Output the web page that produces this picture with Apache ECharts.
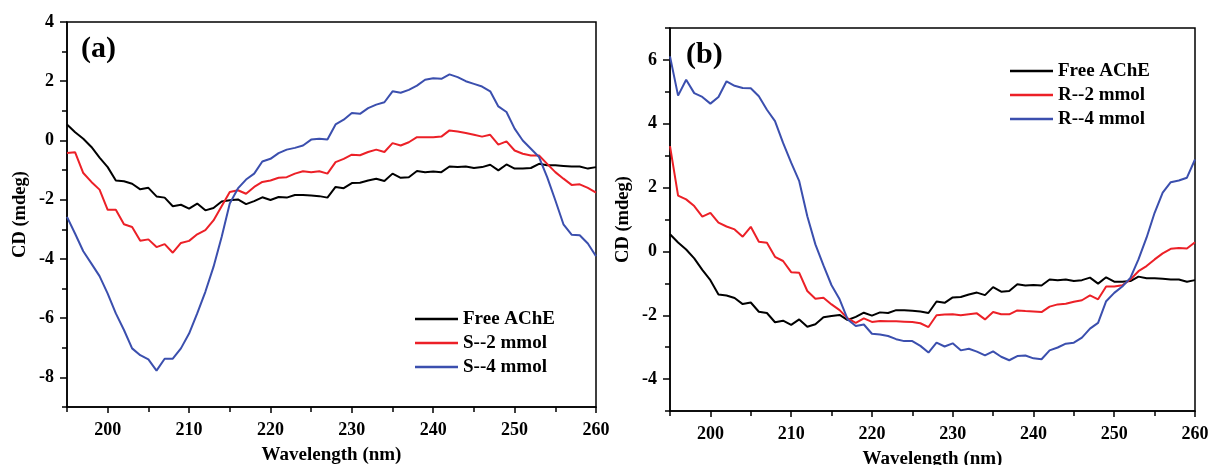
<!DOCTYPE html>
<html>
<head>
<meta charset="utf-8">
<script src="https://cdn.jsdelivr.net/npm/echarts@6/dist/echarts.min.js"></script>
<style>
html,body{margin:0;padding:0;background:#fff;}
#chart{width:1208px;height:465px;}
</style>
</head>
<body>
<div id="chart"></div>
<script>
// Wavelength (nm)
const wavelength = [195,196,197,198,199,200,201,202,203,204,205,206,207,208,209,210,211,212,213,214,215,216,217,218,219,220,221,222,223,224,225,226,227,228,229,230,231,232,233,234,235,236,237,238,239,240,241,242,243,244,245,246,247,248,249,250,251,252,253,254,255,256,257,258,259,260];

// CD (mdeg)
const freeAChE = [0.54,0.28,0.06,-0.22,-0.58,-0.9,-1.35,-1.38,-1.46,-1.65,-1.6,-1.89,-1.93,-2.22,-2.17,-2.3,-2.13,-2.36,-2.28,-2.06,-2.02,-1.99,-2.15,-2.05,-1.92,-2.01,-1.91,-1.93,-1.84,-1.84,-1.86,-1.88,-1.93,-1.57,-1.61,-1.44,-1.43,-1.35,-1.29,-1.37,-1.12,-1.26,-1.24,-1.03,-1.07,-1.05,-1.07,-0.88,-0.9,-0.88,-0.93,-0.9,-0.82,-1.01,-0.81,-0.95,-0.95,-0.93,-0.79,-0.84,-0.84,-0.86,-0.88,-0.88,-0.95,-0.9];
const s2mmol = [-0.42,-0.4,-1.1,-1.4,-1.66,-2.34,-2.34,-2.83,-2.92,-3.39,-3.34,-3.6,-3.5,-3.79,-3.46,-3.39,-3.17,-3.03,-2.7,-2.22,-1.74,-1.68,-1.8,-1.57,-1.4,-1.35,-1.26,-1.24,-1.12,-1.04,-1.07,-1.04,-1.12,-0.73,-0.62,-0.48,-0.5,-0.39,-0.31,-0.39,-0.09,-0.17,-0.06,0.11,0.11,0.11,0.13,0.34,0.3,0.25,0.19,0.13,0.19,-0.14,-0.03,-0.34,-0.45,-0.51,-0.51,-0.79,-1.07,-1.29,-1.5,-1.48,-1.6,-1.76];
const s4mmol = [-2.58,-3.15,-3.74,-4.16,-4.58,-5.17,-5.84,-6.4,-7.02,-7.25,-7.39,-7.77,-7.37,-7.37,-7.02,-6.52,-5.84,-5.11,-4.27,-3.26,-2.13,-1.62,-1.32,-1.12,-0.71,-0.62,-0.43,-0.31,-0.25,-0.17,0.03,0.06,0.03,0.54,0.7,0.93,0.9,1.09,1.21,1.29,1.66,1.61,1.71,1.85,2.05,2.1,2.08,2.23,2.14,2.0,1.91,1.82,1.66,1.15,0.96,0.4,0.0,-0.28,-0.56,-1.24,-2.02,-2.83,-3.18,-3.2,-3.48,-3.91];
const r2mmol = [3.3,1.75,1.63,1.42,1.09,1.21,0.9,0.78,0.69,0.46,0.77,0.3,0.27,-0.17,-0.3,-0.65,-0.67,-1.24,-1.48,-1.45,-1.66,-1.84,-2.1,-2.24,-2.1,-2.21,-2.18,-2.19,-2.19,-2.2,-2.21,-2.25,-2.37,-2.0,-1.98,-1.97,-2.0,-1.97,-1.94,-2.13,-1.9,-1.97,-1.97,-1.85,-1.87,-1.88,-1.9,-1.73,-1.66,-1.64,-1.58,-1.53,-1.38,-1.5,-1.1,-1.1,-1.06,-0.88,-0.62,-0.46,-0.25,-0.06,0.08,0.11,0.09,0.29];
const r4mmol = [6.11,4.88,5.38,4.96,4.84,4.63,4.84,5.33,5.19,5.12,5.11,4.86,4.44,4.08,3.4,2.78,2.2,1.1,0.22,-0.44,-1.06,-1.5,-2.13,-2.34,-2.29,-2.58,-2.6,-2.65,-2.75,-2.81,-2.81,-2.96,-3.17,-2.86,-2.98,-2.88,-3.1,-3.05,-3.14,-3.26,-3.13,-3.3,-3.41,-3.28,-3.26,-3.35,-3.38,-3.1,-3.01,-2.89,-2.86,-2.7,-2.42,-2.24,-1.56,-1.3,-1.1,-0.83,-0.25,0.43,1.21,1.84,2.17,2.22,2.31,2.88];

// Tick values
const xMajorTicks = [200,210,220,230,240,250,260];
const xMinorTicks = [195,205,215,225,235,245,255];
const yMajorTicksA = [-8,-6,-4,-2,0,2,4];
const yMinorTicksA = [-9,-7,-5,-3,-1,1,3];
const yMajorTicksB = [-4,-2,0,2,4,6];
const yMinorTicksB = [-5,-3,-1,1,3,5,7];

const seriesNamesA = ['Free AChE','S--2 mmol','S--4 mmol'];
const seriesNamesB = ['Free AChE','R--2 mmol','R--4 mmol'];
const colors = ['#000000','#ec2027','#3b4fae'];

const FONT = '"Liberation Serif","Times New Roman",serif';
const pairs = vals => wavelength.map((w,i)=>[w, vals[i]]);

function mainX(grid){
  return {
    type:'value', gridIndex:grid, min:195, max:260, position:'bottom',
    name:'Wavelength (nm)', nameLocation:'middle', nameGap:39,
    nameTextStyle:{fontFamily:FONT,fontWeight:'bold',fontSize:19,color:'#000'},
    axisLine:{show:true,onZero:false,lineStyle:{color:'#000',width:1.5}},
    axisTick:{show:true,customValues:xMajorTicks,length:6,lineStyle:{color:'#000',width:1.5}},
    axisLabel:{customValues:xMajorTicks,fontFamily:FONT,fontWeight:'bold',fontSize:18,color:'#000',margin:14},
    splitLine:{show:false}
  };
}
function minorX(grid){
  return {
    type:'value', gridIndex:grid, min:195, max:260, position:'bottom',
    axisLine:{show:false,onZero:false},
    axisTick:{show:true,customValues:xMinorTicks,length:5,lineStyle:{color:'#000',width:1.5}},
    axisLabel:{show:false}, splitLine:{show:false}
  };
}
function mainY(grid,min,max,major){
  return {
    type:'value', gridIndex:grid, min:min, max:max, position:'left',
    name:'CD (mdeg)', nameLocation:'middle', nameGap:37,
    nameTextStyle:{fontFamily:FONT,fontWeight:'bold',fontSize:18.5,color:'#000'},
    axisLine:{show:true,onZero:false,lineStyle:{color:'#000',width:1.5}},
    axisTick:{show:true,customValues:major,length:7,lineStyle:{color:'#000',width:1.5}},
    axisLabel:{customValues:major,fontFamily:FONT,fontWeight:'bold',fontSize:18,color:'#000',margin:13},
    splitLine:{show:false}
  };
}
function minorY(grid,min,max,minor){
  return {
    type:'value', gridIndex:grid, min:min, max:max, position:'left',
    axisLine:{show:false,onZero:false},
    axisTick:{show:true,customValues:minor,length:5,lineStyle:{color:'#000',width:1.5}},
    axisLabel:{show:false}, splitLine:{show:false}
  };
}
function line(name,vals,color,xi,yi){
  return {
    name:name, type:'line', xAxisIndex:xi, yAxisIndex:yi, data:pairs(vals),
    symbol:'none', smooth:false, lineStyle:{color:color,width:2}, itemStyle:{color:color},
    animation:false, z:3
  };
}
const legendText = {fontFamily:FONT,fontWeight:'bold',fontSize:19,color:'#000',lineHeight:20};

const chart = echarts.init(document.getElementById('chart'), null, {renderer:'canvas'});
chart.setOption({
  backgroundColor:'#fff',
  animation:false,
  title:[
    {text:'(a)', left:81, top:34, padding:0, textStyle:{fontFamily:FONT,fontWeight:'bold',fontSize:30,color:'#000'}},
    {text:'(b)', left:686, top:40, padding:0, textStyle:{fontFamily:FONT,fontWeight:'bold',fontSize:30,color:'#000'}}
  ],
  legend:[
    {data:seriesNamesA, orient:'vertical', left:415, top:309, padding:0, icon:'rect', itemWidth:43, itemHeight:2.5, itemGap:4,
     textStyle:legendText, selectedMode:false},
    {data:seriesNamesB, orient:'vertical', left:1010, top:61, padding:0, icon:'rect', itemWidth:43, itemHeight:2.5, itemGap:4,
     textStyle:legendText, selectedMode:false}
  ],
  grid:[
    {left:67, right:612, top:22, bottom:58, outerBoundsMode:'none', containLabel:false, show:true, borderColor:'#000', borderWidth:1.5, backgroundColor:'transparent'},
    {left:670, right:13, top:28, bottom:54, outerBoundsMode:'none', containLabel:false, show:true, borderColor:'#000', borderWidth:1.5, backgroundColor:'transparent'}
  ],
  xAxis:[mainX(0), minorX(0), mainX(1), minorX(1)],
  yAxis:[mainY(0,-9,4,yMajorTicksA), minorY(0,-9,4,yMinorTicksA), mainY(1,-5,7,yMajorTicksB), minorY(1,-5,7,yMinorTicksB)],
  series:[
    line(seriesNamesA[0], freeAChE, colors[0], 0, 0),
    line(seriesNamesA[1], s2mmol, colors[1], 0, 0),
    line(seriesNamesA[2], s4mmol, colors[2], 0, 0),
    line(seriesNamesB[0], freeAChE, colors[0], 2, 2),
    line(seriesNamesB[1], r2mmol, colors[1], 2, 2),
    line(seriesNamesB[2], r4mmol, colors[2], 2, 2)
  ]
});
</script>
</body>
</html>
